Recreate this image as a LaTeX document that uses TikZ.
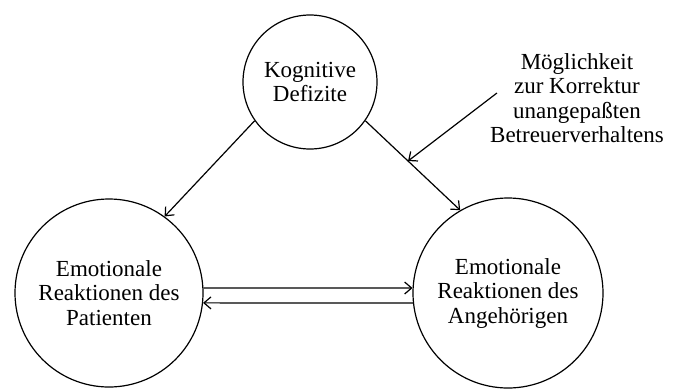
\documentclass[tikz,border=0pt]{standalone}
\usepackage{fontspec}
\setmainfont{Liberation Serif}
\usetikzlibrary{arrows.meta,positioning}

\begin{document}
\begin{tikzpicture}[
x=1pt, y=-1pt,
every node/.style={font=\fontsize{23}{24.5}\selectfont},
ring/.style={draw, circle, line width=1.2pt, align=center, inner sep=0pt},
arrow/.style={-{Straight Barb[length=7pt,width=12pt]}, line width=1.2pt}
]
\useasboundingbox (0,0) rectangle (680,389);
\node[ring, minimum size=134pt] (kd) at (310,82) {Kognitive\\Defizite};
\node[ring, minimum size=188pt] (pat) at (109,293) {Emotionale\\Reaktionen des\\Patienten};
\node[ring, minimum size=190pt] (ang) at (508,293) {Emotionale\\Reaktionen des\\Angehörigen};
\node[align=center, inner sep=2pt] (mk) at (577,98) {Möglichkeit\\zur Korrektur\\unangepaßten\\Betreuerverhaltens};
\draw[arrow] (kd.-145) -- (pat.54);
\draw[arrow] (kd.-35) -- coordinate[pos=0.45] (hit) (ang.120);
\draw[arrow] ([xshift=9pt,yshift=5pt]mk.west) -- (hit);
\draw[arrow] (pat.3) -- (ang.177);
\draw[arrow] (ang.186) -- (pat.-6);
\end{tikzpicture}
\end{document}
